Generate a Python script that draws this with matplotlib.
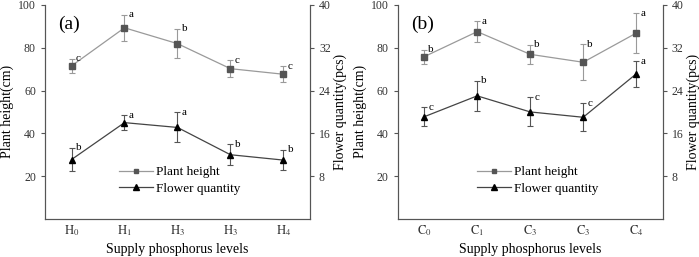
import numpy as np
import matplotlib.pyplot as plt
from matplotlib.lines import Line2D

plt.rcParams['font.family'] = ['Liberation Serif', 'DejaVu Serif']
plt.rcParams['mathtext.fontset'] = 'stix'

# данные
labels_a = ['$\\mathrm{H_0}$', '$\\mathrm{H_1}$', '$\\mathrm{H_3}$', '$\\mathrm{H_3}$', '$\\mathrm{H_4}$']
height_a = [71.5, 89.3, 81.9, 70.2, 67.6]
height_err_a = [3.3, 6.0, 6.9, 4.0, 3.7]
height_sig_a = ['c', 'a', 'b', 'c', 'c']
flower_a = [11.1, 18.0, 17.1, 12.0, 11.0]
flower_err_a = [2.2, 1.4, 2.8, 2.0, 1.9]
flower_sig_a = ['b', 'a', 'a', 'b', 'b']

labels_b = ['$\\mathrm{C_0}$', '$\\mathrm{C_1}$', '$\\mathrm{C_3}$', '$\\mathrm{C_3}$', '$\\mathrm{C_4}$']
height_b = [75.8, 87.5, 76.9, 73.2, 86.8]
height_err_b = [3.2, 4.8, 4.4, 8.4, 9.3]
height_sig_b = ['b', 'a', 'b', 'b', 'a']
flower_b = [19.1, 23.0, 20.0, 19.0, 27.1]
flower_err_b = [1.8, 2.8, 2.7, 2.65, 2.4]
flower_sig_b = ['c', 'b', 'c', 'c', 'a']

fig = plt.figure(figsize=(6.99, 2.57), dpi=100)

gray_line = '#9a9a9a'
dark_line = '#444444'


def panel(rect, tag, labels, h, herr, hsig, f, ferr, fsig, leg_x):
    ax = fig.add_axes(rect)
    ax2 = ax.twinx()
    x = np.arange(len(labels))

    ax.errorbar(x, h, yerr=herr, color=gray_line, lw=0.9, marker='s', ms=4,
                mfc='#555555', mec='#555555', ecolor=gray_line, elinewidth=0.8,
                capsize=2.5, capthick=0.8)
    ax2.errorbar(x, f, yerr=ferr, color=dark_line, lw=0.9, marker='^', ms=5,
                 mfc='black', mec='black', ecolor='#555555', elinewidth=0.8,
                 capsize=2.5, capthick=0.8)

    for xi, yi, ei, s in zip(x, h, herr, hsig):
        ax.annotate(s, (xi, yi + ei), xytext=(3, 0), textcoords='offset points',
                    fontsize=8, ha='left', va='center')
    for xi, yi, ei, s in zip(x, f, ferr, fsig):
        ax2.annotate(s, (xi, yi + ei), xytext=(3, 0), textcoords='offset points',
                     fontsize=8, ha='left', va='center')

    ax.set_xlim(-0.5, len(labels) - 0.5)
    ax.set_ylim(0, 100)
    ax.set_yticks([20, 40, 60, 80, 100])
    ax2.set_ylim(0, 40)
    ax2.set_yticks([8, 16, 24, 32, 40])
    ax.set_xticks(x)
    ax.set_xticklabels(labels)
    ax.tick_params(axis='x', length=0, pad=3, labelsize=9, labelcolor='#333333')
    ax.tick_params(axis='y', length=3, width=0.8, labelsize=8.5, colors='#555555',
                   labelcolor='#333333')
    ax2.tick_params(axis='y', length=3, width=0.8, labelsize=8.5, colors='#555555',
                    labelcolor='#333333')
    for a in (ax, ax2):
        a.spines['top'].set_visible(False)
        for sp in a.spines.values():
            sp.set_color('#555555')
            sp.set_linewidth(0.8)

    ax.set_xlabel('Supply phosphorus levels', fontsize=10, labelpad=4)
    ax.set_ylabel('Plant height(cm)', fontsize=10, labelpad=3)
    ax2.set_ylabel('Flower quantity(pcs)', fontsize=10, labelpad=2)
    ax.text(0.05, 0.95, tag, transform=ax.transAxes, fontsize=14, va='top')

    handles = [Line2D([], [], color=gray_line, lw=0.9, marker='s', ms=3.5,
                      mfc='#555555', mec='#555555'),
               Line2D([], [], color=dark_line, lw=0.9, marker='^', ms=4.5,
                      mfc='black', mec='black')]
    ax.legend(handles, ['Plant height', 'Flower quantity'], loc='center left',
              bbox_to_anchor=(leg_x, 0.18), frameon=False, fontsize=9.5,
              handlelength=2.6, handletextpad=0.2, labelspacing=0.3, borderpad=0)


panel([0.0644, 0.148, 0.379, 0.833], '(a)', labels_a, height_a, height_err_a,
      height_sig_a, flower_a, flower_err_a, flower_sig_a, 0.255)
panel([0.569, 0.148, 0.379, 0.833], '(b)', labels_b, height_b, height_err_b,
      height_sig_b, flower_b, flower_err_b, flower_sig_b, 0.275)

plt.savefig('out.png', dpi=100)
